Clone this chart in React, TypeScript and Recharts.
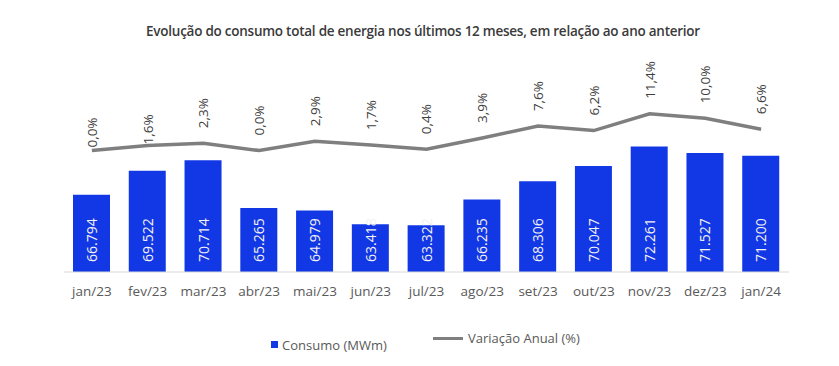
import { Bar, ComposedChart, LabelList, Legend, Line, XAxis, YAxis } from 'recharts'

const meses = ['jan/23', 'fev/23', 'mar/23', 'abr/23', 'mai/23', 'jun/23', 'jul/23', 'ago/23', 'set/23', 'out/23', 'nov/23', 'dez/23', 'jan/24']
const consumo = [66794, 69522, 70714, 65265, 64979, 63418, 63322, 66235, 68306, 70047, 72261, 71527, 71200]
const variacao = [0.0, 1.6, 2.3, 0.0, 2.9, 1.7, 0.4, 3.9, 7.6, 6.2, 11.4, 10.0, 6.6]

// Excel nudged the first two % labels down onto the line
const labelLift = [3, 1, 15, 15, 15, 15, 15, 15, 15, 15, 15, 15, 15]

const rows = meses.map((mes, i) => ({ mes, consumo: consumo[i], variacao: variacao[i] }))

const BLUE = '#1238e6'
const GRAY_LINE = '#7f7f7f'
const FONT = '"Open Sans", "Noto Sans", sans-serif'

const fmtMil = (v: number) => {
  const s = String(Math.round(v))
  return s.slice(0, s.length - 3) + '.' + s.slice(-3)
}
const fmtPct = (v: number) => v.toFixed(1).replace('.', ',') + '%'

function BarValue(props: any) {
  const { x, y, width, height, value } = props
  const cx = x + width / 2
  const cy = y + height - 10
  return (
    <text x={cx} y={cy} transform={`rotate(-90 ${cx} ${cy})`} textAnchor="start" dominantBaseline="central"
      fill="#f2f2f2" fontSize={14} fontFamily={FONT}>
      {fmtMil(value)}
    </text>
  )
}

function PctValue(props: any) {
  const { x, y, value, index } = props
  const cy = y - labelLift[index]
  return (
    <text x={x} y={cy} transform={`rotate(-90 ${x} ${cy})`} textAnchor="start" dominantBaseline="central"
      fill="#404040" fontSize={13.5} fontFamily={FONT}>
      {fmtPct(value)}
    </text>
  )
}

function LegendBox() {
  const txt = { position: 'absolute' as const, fontSize: 13, color: '#595959', fontFamily: FONT, lineHeight: '16px', whiteSpace: 'nowrap' as const }
  return (
    <div style={{ position: 'relative', width: 839, height: 40 }}>
      <div style={{ position: 'absolute', left: 271, top: 29, width: 7, height: 7, background: BLUE }} />
      <div style={{ ...txt, left: 282, top: 25 }}>Consumo (MWm)</div>
      <div style={{ position: 'absolute', left: 433, top: 25, width: 30, height: 3, background: GRAY_LINE }} />
      <div style={{ ...txt, left: 468, top: 18 }}>Variação Anual (%)</div>
    </div>
  )
}

export default function App() {
  return (
    <div style={{ position: 'relative', width: 839, height: 366, background: '#fff', fontFamily: FONT }}>
      <style>{'body{margin:0}'}</style>
      <div style={{ position: 'absolute', top: 22, left: 0, width: 846, textAlign: 'center', fontSize: 13.5, color: '#3a3a3a', fontFamily: FONT, fontWeight: 600, letterSpacing: -0.25 }}>
        Evolução do consumo total de energia nos últimos 12 meses, em relação ao ano anterior
      </div>
      <ComposedChart width={839} height={366} data={rows} margin={{ top: 100, right: 50, bottom: 14, left: 64 }} barSize={37}>
        <XAxis dataKey="mes" axisLine={{ stroke: '#d9d9d9', strokeWidth: 1 }} tickLine={false} tickSize={0} tickMargin={14}
          height={40} interval={0} tick={{ fill: '#595959', fontSize: 13.5, fontFamily: FONT }} />
        <YAxis yAxisId="mw" hide domain={[58000, 77550]} allowDataOverflow />
        <YAxis yAxisId="pct" hide orientation="right" domain={[-37.7, 15.7]} allowDataOverflow />
        <Legend verticalAlign="bottom" height={40} wrapperStyle={{ left: 0, width: 839 }} content={() => <LegendBox />} />
        <Bar yAxisId="mw" dataKey="consumo" fill={BLUE} isAnimationActive={false}>
          <LabelList dataKey="consumo" content={<BarValue />} />
        </Bar>
        <Line yAxisId="pct" type="linear" dataKey="variacao" stroke={GRAY_LINE} strokeWidth={3.5} dot={false} isAnimationActive={false}>
          <LabelList dataKey="variacao" content={<PctValue />} />
        </Line>
      </ComposedChart>
    </div>
  )
}
